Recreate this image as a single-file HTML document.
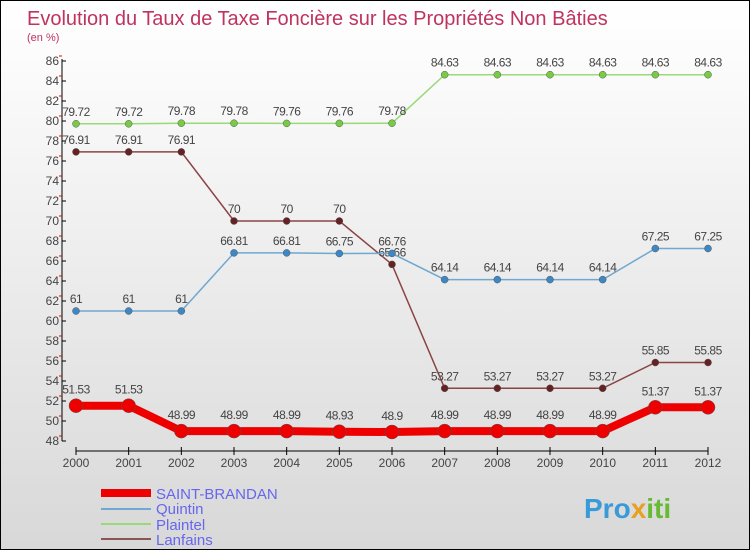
<!DOCTYPE html>
<html><head><meta charset="utf-8"><style>
body{margin:0}
#c{width:748px;height:548px;border:1px solid #000;background:linear-gradient(#fff,#fafafa 15%,#d8d8d8);position:relative;overflow:hidden;font-family:"Liberation Sans",sans-serif}
</style></head><body>
<div id="c">
<svg id="s" width="748" height="548">
<text x="26" y="24" font-size="20" fill="#c0335f">Evolution du Taux de Taxe Foncière sur les Propriétés Non Bâties</text>
<text x="26" y="40" font-size="11" fill="#c0335f">(en %)</text>
<g id="axes"></g><g id="series"></g>
<g>
<rect x="100" y="488" width="50" height="8" fill="#e00"/>
<text x="155" y="498" font-size="15" fill="#6666ee">SAINT-BRANDAN</text>
<rect x="100" y="507" width="50" height="2" fill="#6fa8d0"/>
<text x="155" y="513" font-size="15" fill="#6666ee">Quintin</text>
<rect x="100" y="522" width="50" height="2" fill="#99d977"/>
<text x="155" y="529" font-size="15" fill="#6666ee">Plaintel</text>
<rect x="100" y="537" width="50" height="2" fill="#8b5555"/>
<text x="155" y="544" font-size="15" fill="#6666ee">Lanfains</text>
</g>
<text x="583" y="517" font-size="28" font-weight="bold" fill="#3a9ad9">Pro<tspan fill="#e8a020">x</tspan><tspan fill="#66bb33">iti</tspan></text>
</svg></div>
<script>
const years=[2000,2001,2002,2003,2004,2005,2006,2007,2008,2009,2010,2011,2012];
const saint=[51.53,51.53,48.99,48.99,48.99,48.93,48.9,48.99,48.99,48.99,48.99,51.37,51.37];
const quintin=[61,61,61,66.81,66.81,66.75,66.76,64.14,64.14,64.14,64.14,67.25,67.25];
const plaintel=[79.72,79.72,79.78,79.78,79.76,79.76,79.78,84.63,84.63,84.63,84.63,84.63,84.63];
const lanfains=[76.91,76.91,76.91,70,70,70,65.66,53.27,53.27,53.27,53.27,55.85,55.85];
const yTicks=[48,50,52,54,56,58,60,62,64,66,68,70,72,74,76,78,80,82,84,86];
const NS="http://www.w3.org/2000/svg";
const X=i=>75+i*(707-75)/12, Y=v=>60+(86-v)*10;
function mk(p,t,a){const e=document.createElementNS(NS,t);for(const k in a)e.setAttribute(k,a[k]);p.appendChild(e);return e;}
const ax=document.getElementById('axes');
let l=mk(ax,'line',{x1:61,y1:58,x2:61,y2:440,stroke:'#000'});


l=mk(ax,'line',{x1:75,y1:450,x2:707,y2:450,stroke:'#000'});


yTicks.forEach(v=>{
 mk(ax,'line',{x1:61,y1:Y(v),x2:65,y2:Y(v),stroke:'#000'});
 mk(ax,'line',{x1:58,y1:Y(v)-5,x2:61,y2:Y(v)-5,stroke:'#e00'});
 const t=mk(ax,'text',{x:58,y:Y(v)+4,'font-size':12,'text-anchor':'end',fill:'#444'});t.textContent=v;
 
 
});
years.forEach((y,i)=>{
 mk(ax,'line',{x1:X(i),y1:446,x2:X(i),y2:454,stroke:'#000'});
 const t=mk(ax,'text',{x:X(i),y:466,'font-size':12,'text-anchor':'middle',fill:'#444'});t.textContent=y;
 
 
});
const sg=document.getElementById('series');
function draw(name,vals,col,dot,w,r){
 const g=mk(sg,'g',{});
 
 
 mk(g,'polyline',{points:vals.map((v,i)=>X(i)+','+Y(v)).join(' '),fill:'none',stroke:col,'stroke-width':w});
 vals.forEach((v,i)=>{
  const c=mk(g,'circle',{cx:X(i),cy:Y(v),r:r,fill:dot,stroke:'#555','stroke-width':0.5});
  
  
  const t=mk(g,'text',{x:X(i),y:Y(v)-8-(r>5?4:0),'font-size':12,'text-anchor':'middle',fill:'#444','letter-spacing':'-0.5'});t.textContent=v;
  
  
 });
}
draw('plaintel',plaintel,'#99d977','#77cc44',1.5,3.5);
draw('lanfains',lanfains,'#8b4444','#662222',1.5,3.5);
draw('quintin',quintin,'#6fa8d0','#3d88c4',1.5,3.5);
draw('saint-brandan',saint,'#e00','#e00',8,7);
</script>
</body></html>
